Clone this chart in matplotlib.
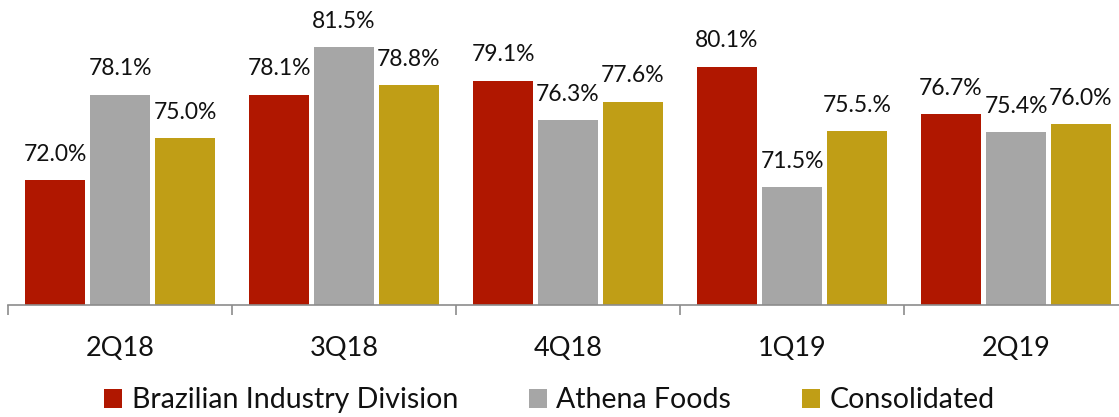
import matplotlib
matplotlib.use("Agg")
import matplotlib.pyplot as plt
import numpy as np

quarters = ["2Q18", "3Q18", "4Q18", "1Q19", "2Q19"]
series_names = ["Brazilian Industry Division", "Athena Foods", "Consolidated"]
brazil = [72.0, 78.1, 79.1, 80.1, 76.7]
athena = [78.1, 81.5, 76.3, 71.5, 75.4]
consolidated = [75.0, 78.8, 77.6, 75.5, 76.0]
value_labels = [
    ["72.0%", "78.1%", "79.1%", "80.1%", "76.7%"],
    ["78.1%", "81.5%", "76.3%", "71.5%", "75.4%"],
    ["75.0%", "78.8%", "77.6%", "75.5.%", "76.0%"],
]
colors = ["#B01700", "#A6A6A6", "#C09E16"]

plt.rcParams["font.family"] = ["Lato", "DejaVu Sans"]

fig = plt.figure(figsize=(11.19, 4.17), dpi=100)
ax = fig.add_axes([8 / 1119, 112 / 417, 1120 / 1119, 305 / 417])

x = np.arange(len(quarters))
width = 0.266
step = 0.29
series = [brazil, athena, consolidated]
for i, (vals, name, col) in enumerate(zip(series, series_names, colors)):
    pos = x + (i - 1) * step
    bars = ax.bar(pos, vals, width, color=col, label=name, zorder=2)
    for b, lab in zip(bars, value_labels[i]):
        ax.annotate(lab, (b.get_x() + b.get_width() / 2, b.get_height()),
                    xytext=(0, 11), textcoords="offset points",
                    ha="center", va="bottom", fontsize=16.5, color="#111111")

ax.set_ylim(63.07, 84.86)
ax.set_xlim(-0.5, 4.5)

for side in ["top", "right", "left"]:
    ax.spines[side].set_visible(False)
ax.spines["bottom"].set_color("#8C8C8C")
ax.spines["bottom"].set_linewidth(1.2)
ax.set_yticks([])

ax.set_xticks(x)
ax.set_xticklabels(quarters, fontsize=19.5, color="#111111")
ax.tick_params(axis="x", which="major", length=0, pad=22)
ax.set_xticks(np.arange(-0.5, 5.0, 1.0), minor=True)
ax.tick_params(axis="x", which="minor", length=7, width=1.2, color="#8C8C8C")

leg = fig.legend(loc="center", bbox_to_anchor=(0.491, 0.04), ncol=3, frameon=False,
                 fontsize=20.5, handlelength=0.63, handleheight=0.63,
                 handletextpad=0.32, columnspacing=2.5, borderaxespad=0)
for t in leg.get_texts():
    t.set_color("#111111")

fig.savefig("out.png", dpi=100)
